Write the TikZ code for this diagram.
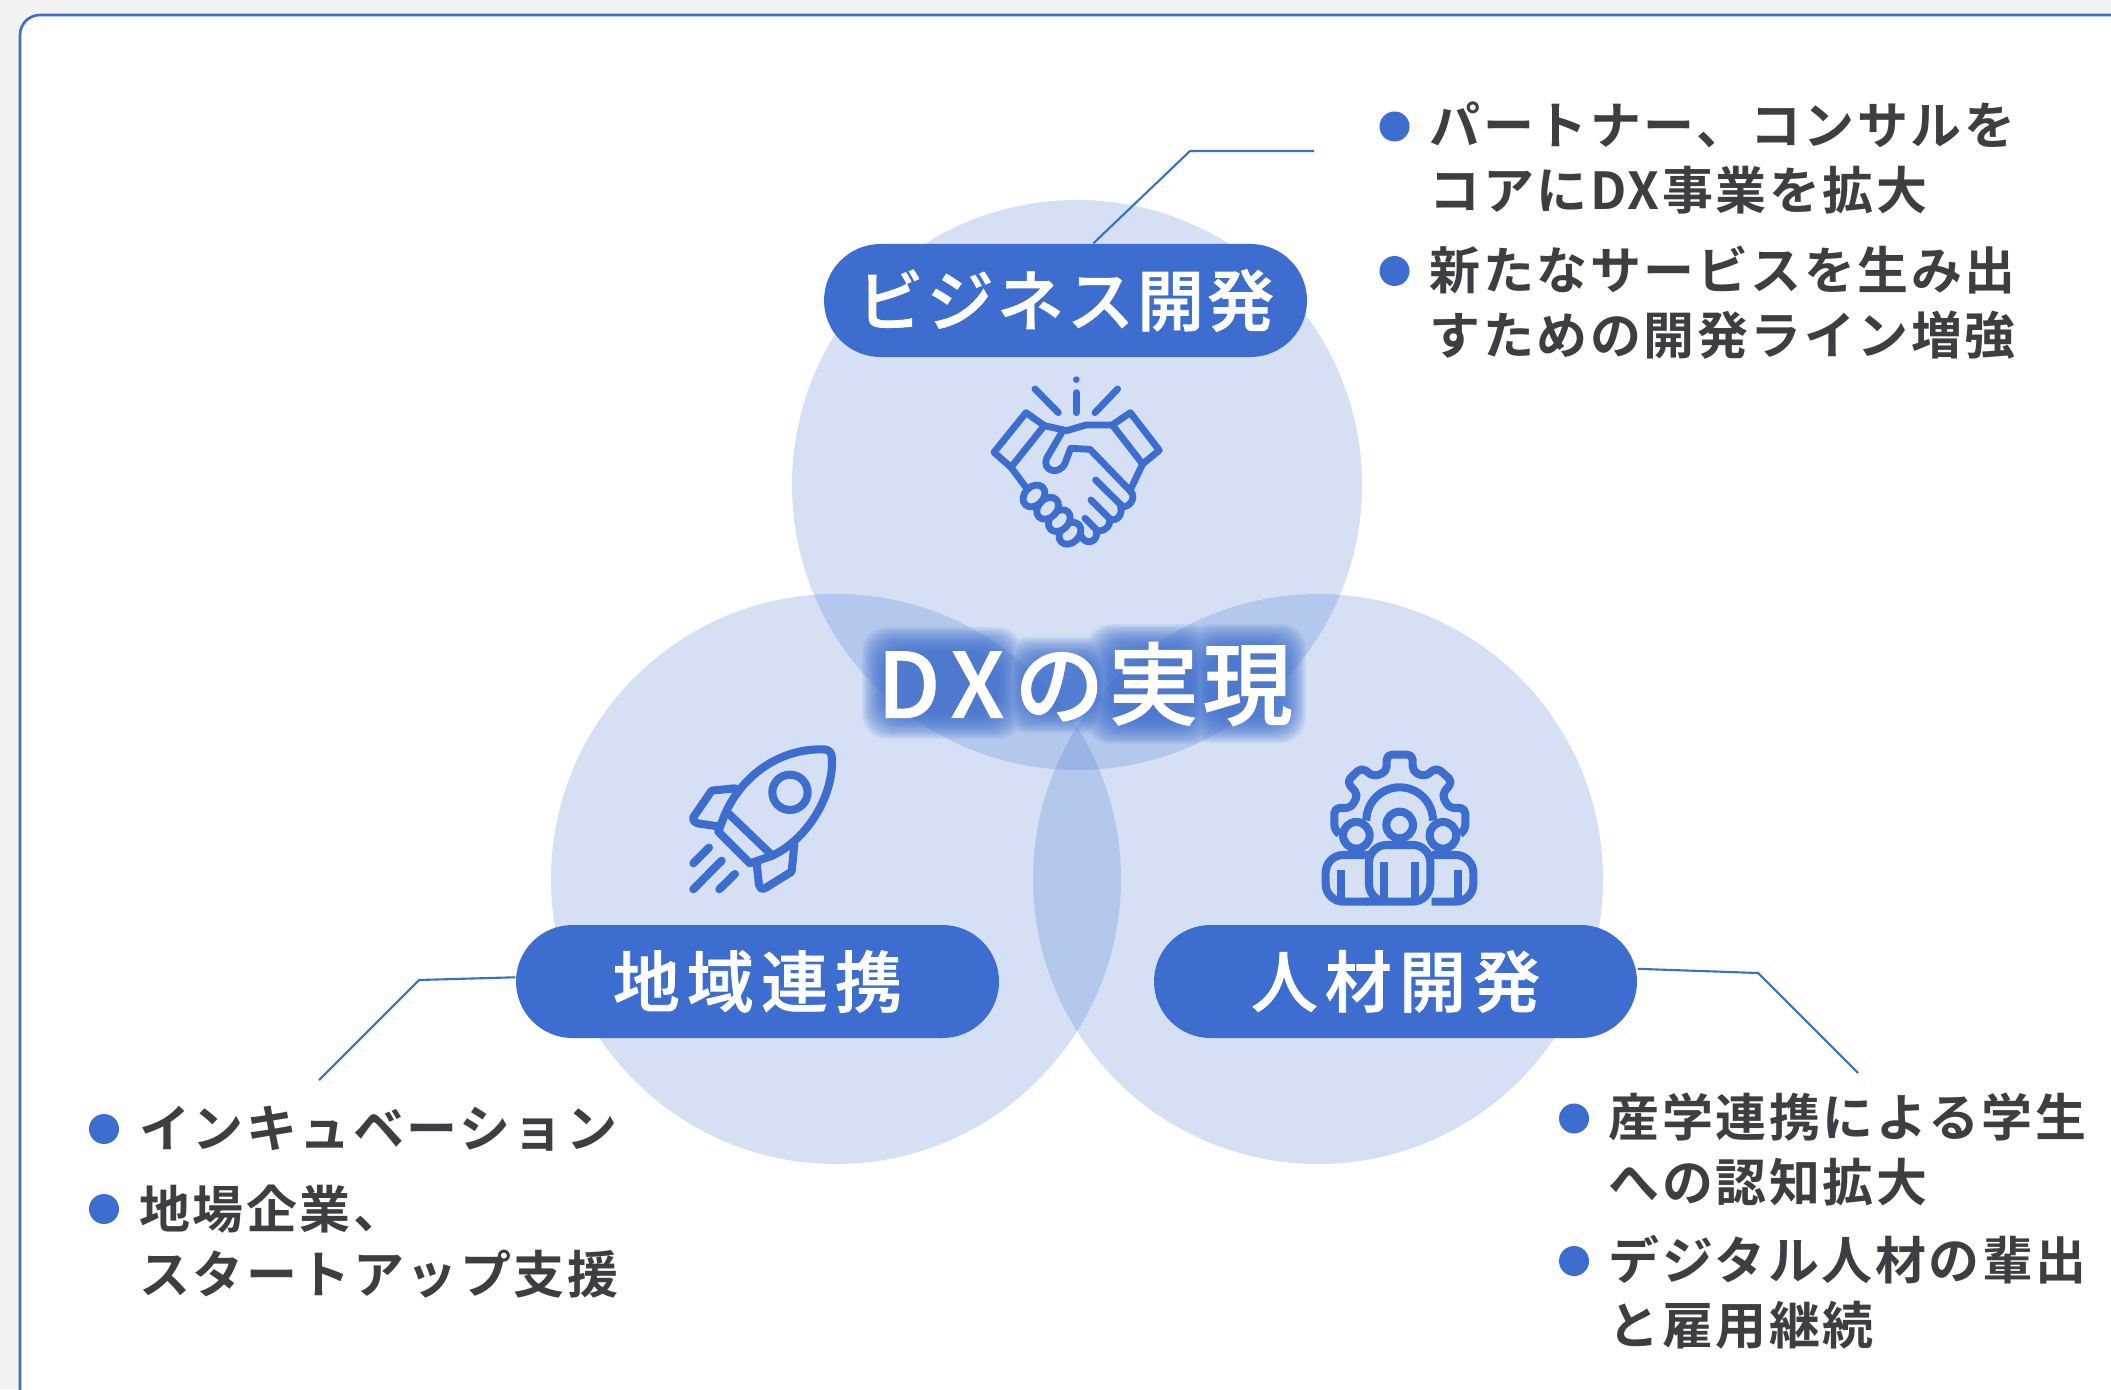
\documentclass[tikz,border=0pt]{standalone}
\usepackage{fontspec}
\newfontfamily\cjk[LetterSpace=5]{Noto Sans CJK JP Bold}
\newfontfamily\cjkpill[LetterSpace=5,FakeBold=1.2]{Noto Sans CJK JP Medium}
\newfontfamily\cjkpillw[LetterSpace=11,FakeBold=1.2]{Noto Sans CJK JP Medium}
\newfontfamily\cjkhead[LetterSpace=5,FakeBold=1.2]{Noto Sans CJK JP Medium}
\definecolor{dxblue}{HTML}{3D6ECF}
\definecolor{discbg}{HTML}{D6E1F4}
\definecolor{inkgray}{HTML}{3D3D42}
\definecolor{pagegray}{HTML}{F2F2F2}
\tikzset{
  disc/.style={fill=dxblue, fill opacity=0.21},
  pill/.style={fill=dxblue, text=white, rounded corners=5.65mm, minimum width=48.3mm, minimum height=11.3mm, inner sep=0pt},
  leader/.style={draw=dxblue, line width=0.6pt},
  itemdot/.style={circle, fill=dxblue, minimum size=3mm, inner sep=0pt},
  itemtext/.style={anchor=west, inner sep=0pt, align=left, text=inkgray, font=\fontsize{14.5}{18.5}\selectfont\cjk},
  icon/.style={draw=dxblue, line cap=round, line join=round},
}
\begin{document}
\begin{tikzpicture}[x=1cm,y=-1cm]
  \useasboundingbox (0,0) rectangle (21.11,13.89);
  \fill[pagegray] (0,0) rectangle (21.11,13.89);
  \draw[draw=dxblue, fill=white, line width=0.75pt, rounded corners=2mm] (0.2,0.15) rectangle (22,15);

  %-------------
  \fill[disc] (10.77,4.85) circle (2.85);
  \fill[disc] (8.36,8.79) circle (2.85);
  \fill[disc] (13.18,8.79) circle (2.85);

  %-------------
  \foreach \g in {0,...,18}{
    \pgfmathsetmacro\w{0.06-0.014*\g}
    \fill[dxblue, opacity=0.085, rounded corners=2.5mm]
      (8.68-\w,6.33-\w) rectangle (10.17+\w,7.33+\w)
      (10.08-\w,6.43-\w) rectangle (11.15+\w,7.27+\w)
      (10.92-\w,6.30-\w) rectangle (12.1+\w,7.38+\w)
      (11.9-\w,6.30-\w) rectangle (13.0+\w,7.37+\w);
  }
  \node[text=white, inner sep=0pt, font=\fontsize{25.5}{30}\selectfont\cjkhead] (dxtitle) at (10.85,6.84) {D\kern3pt X\kern3pt の実現};

  %-------------
  \node[pill, font=\fontsize{19}{22}\selectfont\cjkpill] (bizpill) at (10.655,3.005) {\raisebox{-0.7pt}{ビジネス開発}};
  \node[pill, font=\fontsize{19}{22}\selectfont\cjkpillw] (areapill) at (7.575,9.815) {\raisebox{-0.7pt}{地域連携}};
  \node[pill, font=\fontsize{19}{22}\selectfont\cjkpillw] (hrpill) at (13.955,9.815) {\raisebox{-0.7pt}{人材開発}};

  %-------------
  \coordinate (bizbend) at (11.9,1.51);
  \coordinate (bizend) at (13.14,1.51);
  \coordinate (areabend) at (4.19,9.8);
  \coordinate (areaend) at (3.19,10.8);
  \coordinate (hrbend) at (17.58,9.73);
  \coordinate (hrend) at (18.58,10.73);
  \draw[leader] (bizpill.64) -- (bizbend) -- (bizend);
  \draw[leader] (areapill.179) -- (areabend) -- (areaend);
  \draw[leader] (hrpill.3) -- (hrbend) -- (hrend);

  %-------------
  \node[itemdot] (bizdota) at (13.945,1.265) {};
  \node[itemtext] (bizitema) at (14.29,1.575) {パートナー、コンサルを\\コアにDX事業を拡大};
  \node[itemdot] (bizdotb) at (13.945,2.71) {};
  \node[itemtext] (bizitemb) at (14.29,3.025) {新たなサービスを生み出\\すための開発ライン増強};

  \node[itemdot] (areadota) at (1.04,11.29) {};
  \node[itemtext] (areaitema) at (1.385,11.29) {インキュベーション};
  \node[itemdot] (areadotb) at (1.04,12.09) {};
  \node[itemtext] (areaitemb) at (1.385,12.415) {地場企業、\\スタートアップ支援};

  \node[itemdot] (hrdota) at (15.74,11.185) {};
  \node[itemtext] (hritema) at (16.08,11.49) {産学連携による学生\\への認知拡大};
  \node[itemdot] (hrdotb) at (15.74,12.61) {};
  \node[itemtext] (hritemb) at (16.08,12.925) {デジタル人材の輩出\\と雇用継続};

  %------------- handshake
  \begin{scope}[shift={(9.5,3.6)}, x=0.03333mm, y=-0.03333mm]
    \begin{scope}[icon, line width=1.95pt]
      \draw (255,87) -- (325,158);
      \draw (379,98) -- (379,158);
      \draw (503,87) -- (435,158);
      \fill[dxblue] (379,59) circle (10);
      \draw (228,158) -- (132,277) -- (183,322) -- (283,197) -- cycle;
      \draw (541,158) -- (628,271) -- (578,312) -- (487,195) -- cycle;
      \draw (283,197) -- (350,212) -- (408,195) -- (487,195);
      \draw (183,322) -- (230,385);
      \draw (578,312) -- (540,392);
      \draw (335,218) -- (290,295) .. controls (275,330) and (325,350) .. (345,310) -- (362,265) -- (420,268) -- (540,392);
      \draw (437,360) -- (515,437) .. controls (530,450) and (565,415) .. (540,392);
      \draw (423,420) -- (478,475) .. controls (495,490) and (520,465) .. (512,443);
      \draw (405,475) -- (440,510) .. controls (455,520) and (485,500) .. (478,478);
      \draw (395,530) .. controls (405,555) and (445,550) .. (440,512);
      \foreach \fx/\fy in {360/520,328/482,293/445,252/408}
        \draw[fill=discbg, rotate around={45:(\fx,\fy)}] (\fx,\fy) ellipse (37 and 28);
    \end{scope}
  \end{scope}

  %------------- rocket
  \begin{scope}[shift={(6.6,7.3)}, x=0.03333mm, y=-0.03333mm]
    \begin{scope}[icon, line width=2.3pt]
      \draw (190,265) .. controls (225,170) and (330,55) .. (490,58) .. controls (510,58) and (516,70) .. (516,88) .. controls (520,200) and (440,330) .. (335,378);
      \draw (205,250) -- (335,375);
      \draw (190,265) -- (175,305) -- (270,400) -- (335,378);
      \draw (225,175) -- (155,182) -- (100,262) .. controls (98,272) and (105,278) .. (112,280) -- (180,290);
      \draw (403,345) -- (395,425) -- (315,475) .. controls (305,480) and (298,472) .. (297,465) -- (290,400);
      \draw (390,187) circle (53);
      \draw (100,400) -- (147,353);
      \draw (100,478) -- (185,392);
      \draw (178,478) -- (225,432);
    \end{scope}
  \end{scope}

  %------------- team
  \begin{scope}[shift={(12.9,7.3)}, x=0.03333mm, y=-0.03333mm]
    \begin{scope}[icon, line width=2.3pt, line cap=butt, rounded corners=1.5pt]
      \draw (148,312) -- (133,300) -- (133,234) -- (182,234) -- (205,195) -- (170,155) -- (215,112) -- (250,140) -- (290,125) -- (290,74) -- (368,74) -- (368,125) -- (405,140) -- (440,112) -- (488,155) -- (455,195) -- (478,234) -- (526,234) -- (526,300) -- (510,312);
      \draw (229,272) arc[start angle=180, end angle=360, radius=100];
      \draw (329,285) circle (40);
      \draw (199,316) circle (40);
      \draw (459,316) circle (40);
      \draw[rounded corners=5pt] (283,515) -- (237,515) -- (237,345) -- (421,345) -- (421,515) -- cycle;
      \draw[rounded corners=5pt] (235,375) -- (107,375) -- (107,515) -- (235,515);
      \draw[rounded corners=5pt] (425,375) -- (550,375) -- (550,515) -- (425,515);
      \draw (153,420) -- (153,510);
      \draw (283,397) -- (283,515);
      \draw (375,397) -- (375,515);
      \draw (505,420) -- (505,510);
    \end{scope}
  \end{scope}

\end{tikzpicture}
\end{document}
